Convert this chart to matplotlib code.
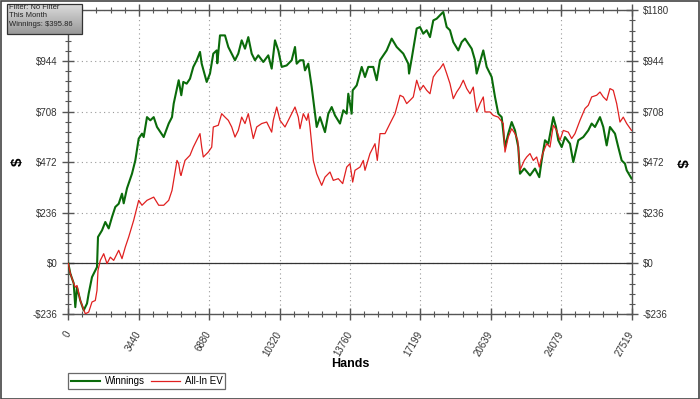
import matplotlib
matplotlib.use("Agg")
import matplotlib.pyplot as plt
import matplotlib.transforms as mtransforms
import numpy as np
from matplotlib.patches import Rectangle
from matplotlib.ticker import AutoMinorLocator

plt.rcParams['font.family'] = ['Liberation Sans', 'DejaVu Sans']

# ---- data ----
win_hands = [0, 98, 264, 342, 425, 586, 752, 914, 997, 1158,
             1319, 1402, 1451, 1647, 1808, 1974, 2135, 2296, 2463, 2624,
             2707, 2868, 3112, 3274, 3440, 3601, 3684, 3845, 4007, 4173,
             4334, 4661, 4906, 5067, 5150, 5394, 5521, 5619, 5785, 5946,
             6108, 6274, 6435, 6518, 6762, 6923, 7085, 7251, 7280, 7412,
             7656, 7818, 7984, 8145, 8306, 8472, 8634, 8795, 8961, 9122,
             9283, 9528, 9772, 9938, 10099, 10261, 10427, 10671, 10915, 11077,
             11160, 11321, 11482, 11565, 11726, 11893, 12054, 12137, 12298, 12459,
             12542, 12704, 12870, 13031, 13275, 13437, 13603, 13681, 13847, 13896,
             14091, 14336, 14497, 14658, 14902, 15068, 15230, 15557, 15801, 16046,
             16368, 16612, 16650, 16779, 17023, 17184, 17345, 17511, 17673, 17834,
             18000, 18244, 18323, 18489, 18650, 18811, 19055, 19222, 19383, 19544,
             19710, 19871, 19954, 20116, 20277, 20443, 20687, 20849, 21010, 21176,
             21337, 21498, 21665, 21826, 21987, 22070, 22280, 22559, 22803, 23013,
             23130, 23292, 23453, 23697, 23829, 23941, 24108, 24269, 24513, 24674,
             24919, 25163, 25407, 25573, 25735, 25979, 26140, 26306, 26467, 26712,
             26873, 27039, 27200, 27284, 27519]
winnings = [0, -47, -93, -204, -111, -173, -219, -187, -140, -64,
            -33, -17, 123, 154, 193, 163, 216, 263, 278, 325,
            280, 350, 418, 480, 582, 605, 589, 682, 667, 682,
            636, 589, 652, 682, 745, 854, 784, 846, 838, 861,
            916, 947, 986, 931, 846, 885, 978, 993, 933, 1063,
            1063, 1009, 978, 947, 978, 1040, 1001, 1055, 978, 947,
            970, 939, 970, 908, 1040, 993, 916, 923, 947, 1009,
            931, 947, 947, 900, 931, 822, 698, 636, 682, 636,
            612, 698, 729, 690, 652, 714, 698, 791, 698, 807,
            830, 916, 869, 916, 916, 854, 947, 993, 1048, 1009,
            978, 931, 885, 955, 1095, 1102, 1071, 1087, 1055, 1133,
            1141, 1165, 1172, 1102, 1087, 1032, 993, 1032, 1048, 1025,
            1001, 947, 885, 939, 993, 916, 869, 776, 698, 682,
            542, 605, 659, 620, 542, 418, 442, 410, 442, 402,
            480, 574, 558, 682, 636, 574, 542, 589, 558, 472,
            574, 589, 620, 652, 636, 682, 636, 550, 636, 605,
            542, 480, 465, 434, 395.86]

ev_hands = [0, 98, 264, 342, 425, 586, 831, 997, 1158, 1319,
            1402, 1451, 1564, 1730, 1891, 2052, 2218, 2463, 2624, 2785,
            2951, 3195, 3357, 3440, 3601, 3845, 4173, 4417, 4661, 4906,
            5067, 5311, 5394, 5472, 5507, 5702, 5946, 6108, 6274, 6435,
            6518, 6596, 6840, 7007, 7085, 7329, 7495, 7656, 7818, 7984,
            8145, 8306, 8472, 8634, 8795, 9039, 9205, 9450, 9694, 9938,
            10016, 10183, 10344, 10588, 10832, 11077, 11238, 11321, 11482, 11648,
            11726, 11810, 11893, 11971, 12137, 12381, 12542, 12787, 12948, 13192,
            13407, 13603, 13764, 13896, 14008, 14253, 14414, 14497, 14741, 14986,
            15098, 15230, 15474, 15718, 15963, 16207, 16368, 16534, 16695, 16857,
            17023, 17184, 17345, 17511, 17673, 17834, 18000, 18161, 18323, 18489,
            18650, 18811, 18977, 19139, 19300, 19466, 19627, 19788, 19871, 19954,
            20116, 20277, 20360, 20604, 20766, 21010, 21254, 21337, 21498, 21665,
            21826, 21958, 22070, 22280, 22397, 22559, 22720, 22886, 23013, 23179,
            23375, 23536, 23697, 23863, 24024, 24186, 24430, 24596, 24757, 25002,
            25246, 25407, 25573, 25818, 25979, 26140, 26306, 26467, 26629, 26795,
            26956, 27117, 27284, 27519]
allin_ev = [0, -47, -93, -111, -103, -173, -235, -227, -180, -173,
            -126, -33, 14, 45, -1, 29, 14, 61, 22, 76,
            123, 201, 263, 294, 271, 294, 309, 271, 271, 294,
            340, 480, 465, 418, 410, 480, 504, 542, 574, 605,
            542, 496, 519, 542, 636, 644, 698, 682, 667, 636,
            589, 620, 682, 652, 698, 582, 636, 652, 659, 612,
            667, 729, 667, 636, 682, 729, 682, 628, 698, 667,
            698, 636, 558, 480, 418, 364, 402, 426, 387, 395,
            372, 449, 465, 379, 434, 449, 480, 434, 512, 558,
            480, 605, 605, 652, 698, 784, 776, 745, 760, 776,
            854, 807, 830, 807, 791, 869, 892, 908, 931, 885,
            838, 768, 799, 822, 854, 815, 791, 822, 760, 706,
            745, 776, 706, 706, 690, 682, 652, 519, 589, 628,
            605, 574, 434, 480, 496, 512, 480, 496, 449, 512,
            558, 542, 644, 620, 574, 620, 612, 582, 605, 667,
            722, 737, 776, 784, 799, 776, 760, 815, 807, 745,
            659, 682, 652, 620]

x_ticks = [0, 3440, 6880, 10320, 13760, 17199, 20639, 24079, 27519]
x_labels = ["0", "3440", "6880", "10320", "13760", "17199", "20639", "24079", "27519"]
y_ticks = [-236, 0, 236, 472, 708, 944, 1180]
y_labels = ["-$236", "$0", "$236", "$472", "$708", "$944", "$1180"]
series_names = ["Winnings", "All-In EV"]
info_lines = ["Filter: No Filter", "This Month", "Winnings: $395.86"]

# ---- figure ----
W, H = 700, 399
fig = plt.figure(figsize=(W / 100, H / 100), dpi=100)
fig.patch.set_facecolor("white")

x0, x1, ytop, ybot = 68.3, 631.5, 10.3, 314.0
ax = fig.add_axes([x0 / W, 1 - ybot / H, (x1 - x0) / W, (ybot - ytop) / H])

green = "#0a6b0a"
red = "#e02020"
ax.plot(win_hands, winnings, color=green, lw=1.5, label=series_names[0], zorder=3)
ax.plot(ev_hands, allin_ev, color=red, lw=0.9, label=series_names[1], zorder=4)

ax.axhline(0, color="#333333", lw=0.9, zorder=2)

ax.set_xlim(0, 27519)
ax.set_ylim(-236, 1180)

spine_c = "#555555"
for s in ax.spines.values():
    s.set_color(spine_c)
    s.set_linewidth(1.0)

ax.set_xticks(x_ticks)
ax.set_xticklabels(x_labels, rotation=60, ha="right", va="center",
                   rotation_mode="anchor", fontsize=7, color="#333333")
shift = mtransforms.ScaledTranslation(4 / 100, -2 / 100, fig.dpi_scale_trans)
for lab in ax.get_xticklabels():
    lab.set_transform(lab.get_transform() + shift)
ax.set_yticks(y_ticks)
ax.set_yticklabels(y_labels, fontsize=7, color="#333333")
ax.xaxis.set_minor_locator(AutoMinorLocator(5))
ax.yaxis.set_minor_locator(AutoMinorLocator(5))
ax.tick_params(axis="both", which="major", direction="inout", length=8,
               width=1.0, color=spine_c, top=True, right=True,
               labelright=True, labelleft=True)
ax.tick_params(axis="both", which="minor", direction="inout", length=5,
               width=0.8, color=spine_c, top=True, right=True)
ax.tick_params(axis="y", which="major", pad=4)
ax.tick_params(axis="x", which="major", pad=9)

ax.grid(True, which="major", color="#999999", lw=0.8, ls=(0, (1, 3)))

fig.text(350 / W, 1 - 364 / H, "Hands", fontsize=9, fontweight="bold",
         ha="center", va="center")
fig.text(18 / W, 1 - 162 / H, "$", fontsize=11, fontweight="bold",
         rotation=90, ha="center", va="center")
fig.text(681 / W, 1 - 163 / H, "$", fontsize=11, fontweight="bold",
         rotation=270, ha="center", va="center")

leg = ax.legend(loc="lower left", bbox_to_anchor=(68 / W, 1 - 389 / H),
                bbox_transform=fig.transFigure, ncol=2, fontsize=7,
                frameon=True, fancybox=False, edgecolor="#444444",
                handlelength=3.0, handletextpad=0.5, columnspacing=0.6,
                borderpad=0.3, borderaxespad=0)
leg.get_frame().set_linewidth(0.9)

# info box with grey gradient (figure-level image, no extra axes)
bw, bh = 75, 30
g = np.linspace(0.86, 0.60, bh).reshape(-1, 1, 1) * np.ones((1, bw, 3))
fig.figimage(g, xo=7, yo=H - 4 - bh, origin="upper", zorder=5)
fig.patches.append(Rectangle((7 / W, 1 - (4 + bh) / H), bw / W, bh / H,
                             transform=fig.transFigure, fill=False,
                             edgecolor="#333333", lw=0.9, zorder=6))
fig.text(9 / W, 1 - 4.0 / H, "\n".join(info_lines), fontsize=5.5,
         va="top", ha="left", color="#222222", linespacing=1.25, zorder=7)

# outer border
fig.patches.append(Rectangle((0.5 / W, 0.5 / H), 1 - 1.5 / W, 1 - 1.5 / H,
                             transform=fig.transFigure, fill=False,
                             edgecolor="#444444", lw=1.2))

fig.savefig("out.png", dpi=100, facecolor="white")
